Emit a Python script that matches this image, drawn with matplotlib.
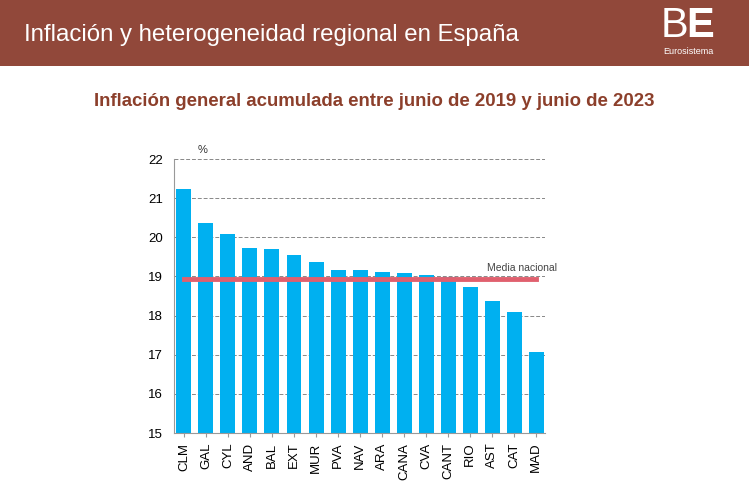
import matplotlib
matplotlib.use("Agg")
import matplotlib.pyplot as plt

# Data
regions = ["CLM", "GAL", "CYL", "AND", "BAL", "EXT", "MUR", "PVA", "NAV",
           "ARA", "CANA", "CVA", "CANT", "RIO", "AST", "CAT", "MAD"]
inflation = [21.23, 20.37, 20.09, 19.73, 19.71, 19.55, 19.37, 19.16, 19.16,
             19.11, 19.08, 19.04, 18.99, 18.73, 18.37, 18.09, 17.07]
national_mean = 18.93
y_ticks = [15, 16, 17, 18, 19, 20, 21, 22]

plt.rcParams['font.family'] = ['Liberation Sans', 'DejaVu Sans']

fig = plt.figure(figsize=(7.49, 4.99), dpi=100)
fig.patch.set_facecolor("white")

# header band
fig.patches.append(plt.Rectangle((0, 1 - 66/499), 1, 66/499, transform=fig.transFigure,
                                 facecolor="#91483a", edgecolor="none", zorder=0))
fig.text(24/749, 1 - 35/499, "Inflación y heterogeneidad regional en España",
         color="white", fontsize=17.3, va="center", ha="left")
fig.text(688/749, 1 - 26/499, "B", color="white", fontsize=30, va="center",
         ha="right", fontweight="light")
fig.text(686/749, 1 - 26/499, "E", color="white", fontsize=30, va="center",
         ha="left", fontweight="bold")
fig.text(688/749, 1 - 51/499, "Eurosistema", color="white", fontsize=6.5,
         va="center", ha="center")

# subtitle
fig.text(374/749, 1 - 102/499,
         "Inflación general acumulada entre junio de 2019 y junio de 2023",
         color="#8c3f2b", fontsize=13.4, fontweight="bold", va="center", ha="center")

ax = fig.add_axes([174/749, 1 - 433/499, 371/749, 274/499])
x = range(len(regions))
ax.bar(x, [v - 15 for v in inflation], bottom=15, width=0.68, color="#00b0f0", zorder=2)
ax.plot([0, len(regions) - 1], [national_mean, national_mean], color="#e0606e",
        linewidth=3.5, zorder=3)
ax.text(len(regions) - 1 + 0.95, national_mean + 0.15, "Media nacional",
        ha="right", va="bottom", fontsize=7.5, color="#444444")
ax.text(0.85, 22.1, "%", fontsize=8, color="#333333", ha="center", va="bottom")

ax.set_ylim(15, 22)
ax.set_xlim(-0.45, len(regions) - 0.6)
ax.set_yticks(y_ticks)
ax.set_xticks(list(x))
ax.set_xticklabels(regions, rotation=90, fontsize=9.5)
ax.tick_params(axis="y", labelsize=9.5, length=0, pad=8)
ax.tick_params(axis="x", length=3, color="#999999", pad=4)
ax.yaxis.grid(True, linestyle=(0, (4, 2)), color="#888888", linewidth=0.7, zorder=0)
ax.set_axisbelow(True)
for s in ["top", "right"]:
    ax.spines[s].set_visible(False)
ax.spines["left"].set_color("#999999")
ax.spines["bottom"].set_color("#999999")

fig.savefig("out.png", dpi=100)
